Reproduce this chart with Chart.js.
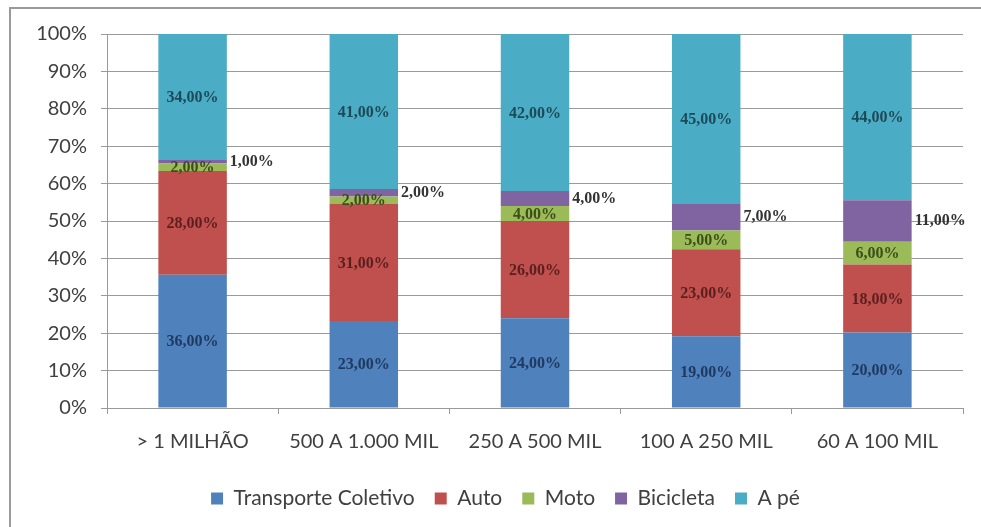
<!DOCTYPE html>
<html>
<head>
<meta charset="utf-8">
<script src="https://cdn.jsdelivr.net/npm/chart.js@4.4.1/dist/chart.umd.min.js"></script>
<style>
    html, body { margin: 0; padding: 0; background: #fff; }
    #wrap { width: 981px; height: 527px; }
</style>
</head>
<body>
<div id="wrap"><canvas id="modalChart"></canvas></div>
<script>
const categories = ['> 1 MILHÃO', '500 A 1.000 MIL', '250 A 500 MIL', '100 A 250 MIL', '60 A 100 MIL'];
const transporteColetivo = [36, 23, 24, 19, 20];
const auto = [28, 31, 26, 23, 18];
const moto = [2, 2, 4, 5, 6];
const bicicleta = [1, 2, 4, 7, 11];
const aPe = [34, 41, 42, 45, 44];
const yTickValues = [0, 10, 20, 30, 40, 50, 60, 70, 80, 90, 100];

const seriesNames = ['Transporte Coletivo', 'Auto', 'Moto', 'Bicicleta', 'A pé'];
const seriesValues = [transporteColetivo, auto, moto, bicicleta, aPe];
const seriesColors = ['#4f81bd', '#c0504d', '#9bbb59', '#8064a2', '#4bacc6'];
const labelColors = ['#1f3a60', '#5a1f1e', '#3c4e1a', '#333333', '#1d4a57'];

// 100% empilhado: cada coluna normalizada pelo total dela
const totals = categories.map((_, j) => seriesValues.reduce((s, arr) => s + arr[j], 0));

function formatPct(v) {
    return v.toFixed(2).replace('.', ',') + '%';
}

const framePlugin = {
    id: 'frame',
    afterLayout(chart) {
        // legenda do original fica centrada na moldura, nao no canvas
        if (chart.legend) {
            chart.legend.left += 24;
            chart.legend.right += 24;
        }
    },
    beforeDraw(chart) {
        const ctx = chart.ctx;
        ctx.save();
        ctx.fillStyle = '#fff';
        ctx.fillRect(0, 0, chart.width, chart.height);
        ctx.strokeStyle = '#9a9a9a';
        ctx.lineWidth = 2;
        ctx.strokeRect(10, 8, chart.width + 50, chart.height + 50);
        ctx.restore();
    }
};

const barLabels = {
    id: 'barLabels',
    afterDatasetsDraw(chart) {
        const ctx = chart.ctx;
        ctx.save();
        ctx.font = 'bold 16px "Liberation Serif", serif';
        ctx.textBaseline = 'middle';
        chart.data.datasets.forEach((ds, i) => {
            const meta = chart.getDatasetMeta(i);
            meta.data.forEach((bar, j) => {
                const txt = formatPct(seriesValues[i][j]);
                const y = (bar.y + bar.base) / 2;
                ctx.fillStyle = labelColors[i];
                if (i === 3) {
                    ctx.textAlign = 'left';
                    ctx.fillText(txt, bar.x + bar.width / 2 + 3, y);
                } else {
                    ctx.textAlign = 'center';
                    ctx.fillText(txt, bar.x, y + 1);
                }
            });
        });
        ctx.restore();
    }
};

new Chart(document.getElementById('modalChart'), {
    type: 'bar',
    data: {
        labels: categories,
        datasets: seriesNames.map((name, i) => ({
            label: name,
            data: seriesValues[i].map((v, j) => v / totals[j] * 100),
            backgroundColor: seriesColors[i],
            borderWidth: 0,
            barPercentage: 0.4,
            categoryPercentage: 1.0
        }))
    },
    options: {
        responsive: true,
        maintainAspectRatio: false,
        animation: false,
        layout: { padding: { top: 34, right: 18, bottom: 8, left: 0 } },
        plugins: {
            tooltip: { enabled: false },
            legend: {
                position: 'bottom',
                labels: {
                    boxWidth: 12,
                    boxHeight: 12,
                    padding: 20,
                    color: '#404040',
                    font: { family: 'Lato', size: 21 }
                }
            }
        },
        scales: {
            x: {
                stacked: true,
                grid: { drawOnChartArea: false, drawTicks: true, tickLength: 6, color: '#9a9a9a' },
                border: { color: '#9a9a9a' },
                ticks: { color: '#404040', padding: 16, font: { family: 'Lato', size: 20 } },
                afterFit(scale) { scale.height = 60; }
            },
            y: {
                stacked: true,
                min: 0,
                max: 100,
                afterBuildTicks(scale) { scale.ticks = yTickValues.map(v => ({ value: v })); },
                grid: { color: '#9a9a9a', tickLength: 6 },
                border: { color: '#9a9a9a' },
                ticks: {
                    color: '#404040',
                    padding: 14,
                    font: { family: 'Lato', size: 20 },
                    callback: v => v + '%'
                },
                afterFit(scale) { scale.width = 107; }
            }
        }
    },
    plugins: [framePlugin, barLabels]
});
</script>
</body>
</html>
